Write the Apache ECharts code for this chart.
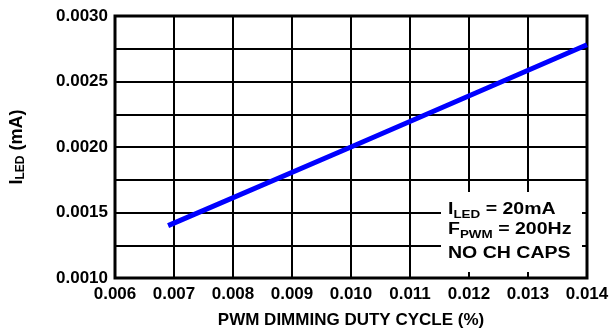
<!DOCTYPE html>
<html><head><meta charset="utf-8">
<script src="https://cdn.jsdelivr.net/npm/echarts@6/dist/echarts.min.js"></script>
<style>html,body{margin:0;padding:0;background:#fff}#c{width:616px;height:333px}</style>
</head><body><div id="c"></div>
<script>
const xTickLabels = ['0.006','0.007','0.008','0.009','0.010','0.011','0.012','0.013','0.014'];
const yTickLabels = ['0.0010','0.0015','0.0020','0.0025','0.0030'];
const dutyCycle = [0.0069, 0.0100, 0.0140];
const iLed = [0.00140, 0.00200, 0.00278];
const noteLines = [
  ['I', 'LED', ' = 20mA'],
  ['F', 'PWM', ' = 200Hz'],
  ['NO CH CAPS', '', '']
];

const FONT = "'Liberation Sans', Arial, sans-serif";
function findLabel(list, v) {
  for (const l of list) if (Math.abs(parseFloat(l) - v) < 1e-9) return l;
  return '';
}
const chart = echarts.init(document.getElementById('c'), null, {renderer: 'canvas'});
const noteTops = [199, 219, 243.5];
const noteRich = {
  b: {fontSize: 16, fontWeight: 'bold', fontFamily: FONT, color: '#000', lineHeight: 21},
  s: {fontSize: 11, fontWeight: 'bold', fontFamily: FONT, color: '#000', lineHeight: 9, verticalAlign: 'bottom'}
};
const noteTexts = noteLines.map((ln, i) => ({
  type: 'text',
  x: 448, y: noteTops[i], scaleX: 1.22, z: 101,
  style: {
    text: '{b|' + ln[0] + '}' + (ln[1] ? '{s|' + ln[1] + '}' : '') + (ln[2] ? '{b|' + ln[2] + '}' : ''),
    rich: noteRich, x: 0, y: 0, verticalAlign: 'top', align: 'left'
  }
}));

chart.setOption({
  animation: false,
  backgroundColor: '#fff',
  grid: {left: 115, right: 29, top: 16, bottom: 55, show: true, borderColor: '#000', borderWidth: 3, outerBoundsMode: 'none', containLabel: false},
  xAxis: {
    type: 'value', min: 0.006, max: 0.014, interval: 0.001,
    name: 'PWM DIMMING DUTY CYCLE (%)', nameLocation: 'middle', nameGap: 34,
    nameTextStyle: {fontSize: 17, fontWeight: 'bold', fontFamily: FONT, color: '#000'},
    axisLine: {show: false}, axisTick: {show: false},
    axisLabel: {margin: 8, fontSize: 17, fontWeight: 'bold', fontFamily: FONT, color: '#000',
      formatter: v => findLabel(xTickLabels, v)},
    splitLine: {show: true, lineStyle: {color: '#000', width: 2}}
  },
  yAxis: {
    type: 'value', min: 0.001, max: 0.003, interval: 0.00025,
    name: '{b|I}{s|LED}{b| (mA)}', nameLocation: 'middle', nameGap: 88, nameRotate: 90,
    nameTextStyle: {
      rich: {
        b: {fontSize: 18, fontWeight: 'bold', fontFamily: FONT, color: '#000', lineHeight: 20},
        s: {fontSize: 12, fontWeight: 'bold', fontFamily: FONT, color: '#000', lineHeight: 10, verticalAlign: 'bottom'}
      }
    },
    axisLine: {show: false}, axisTick: {show: false},
    axisLabel: {margin: 7, fontSize: 17, fontWeight: 'bold', fontFamily: FONT, color: '#000',
      formatter: v => findLabel(yTickLabels, v)},
    splitLine: {show: true, lineStyle: {color: '#000', width: 2}}
  },
  series: [{
    type: 'line', showSymbol: false, symbol: 'none',
    data: dutyCycle.map((x, i) => [x, iLed[i]]),
    lineStyle: {color: '#0000ff', width: 5, cap: 'butt'},
    z: 5
  }],
  graphic: [
    {type: 'rect', shape: {x: 441, y: 192, width: 141, height: 80}, style: {fill: '#fff'}, z: 100},
    ...noteTexts
  ]
});
</script></body></html>
